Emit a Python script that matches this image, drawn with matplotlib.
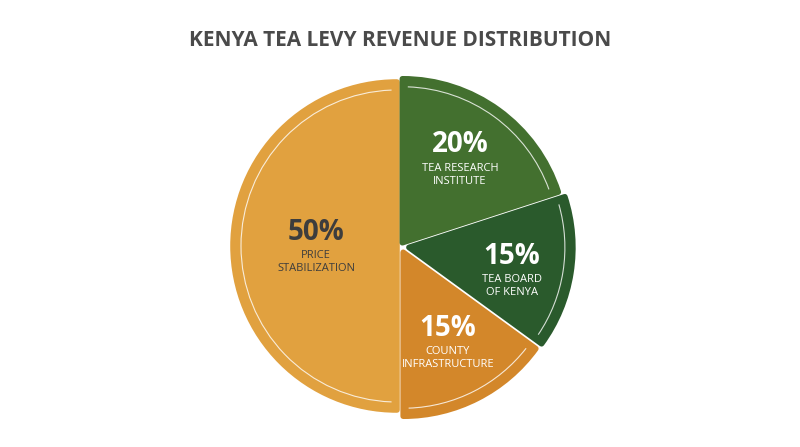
import matplotlib.pyplot as plt
from matplotlib.patches import Arc

labels = ["PRICE\nSTABILIZATION", "COUNTY\nINFRASTRUCTURE", "TEA BOARD\nOF KENYA", "TEA RESEARCH\nINSTITUTE"]
values = [50, 15, 15, 20]
colors = ["#E1A13F", "#D3872A", "#2A5A2C", "#43702F"]
explode = [3, 7, 9, 4]

fig = plt.figure(figsize=(8, 4.47), dpi=100)
ax = fig.add_axes([0, 0, 1, 1])
cx, cy, R = 400, 447 - 246, 164
wedges, _ = ax.pie(values, colors=colors, startangle=90, counterclock=True,
                   explode=explode, radius=R, center=(cx, cy),
                   wedgeprops=dict(linewidth=0))
for w, c in zip(wedges, colors):
    w.set_edgecolor(c); w.set_linewidth(4); w.set_joinstyle("round")
    xc, yc = w.center
    ax.add_patch(Arc((xc, yc), 2 * (R - 8), 2 * (R - 8), theta1=w.theta1 + 2, theta2=w.theta2 - 2,
                     color="white", lw=0.8, alpha=0.8, zorder=3))

pos = [(316, 232), (448, 328), (512, 256), (460, 145)]
for i, (lab, v) in enumerate(zip(labels, values)):
    x, y = pos[i]
    tc = "#3d3d3d" if i == 0 else "white"
    ax.text(x, 447 - y, f"{v}%", ha="center", va="center", fontsize=20, fontweight="bold",
            color=tc, family="Open Sans", zorder=4)
    ax.text(x, 447 - y - 18, lab, ha="center", va="top", fontsize=8, color=tc, family="Open Sans",
            linespacing=1.2, zorder=4)

ax.set_xlim(0, 800); ax.set_ylim(0, 447)
ax.set_aspect("equal"); ax.axis("off")
fig.text(0.5, 1 - 40 / 447, "KENYA TEA LEVY REVENUE DISTRIBUTION", ha="center", va="center",
         fontsize=15, fontweight="bold", color="#4a4a4a", family="Open Sans")
fig.savefig("out.png", dpi=100, facecolor="white")
